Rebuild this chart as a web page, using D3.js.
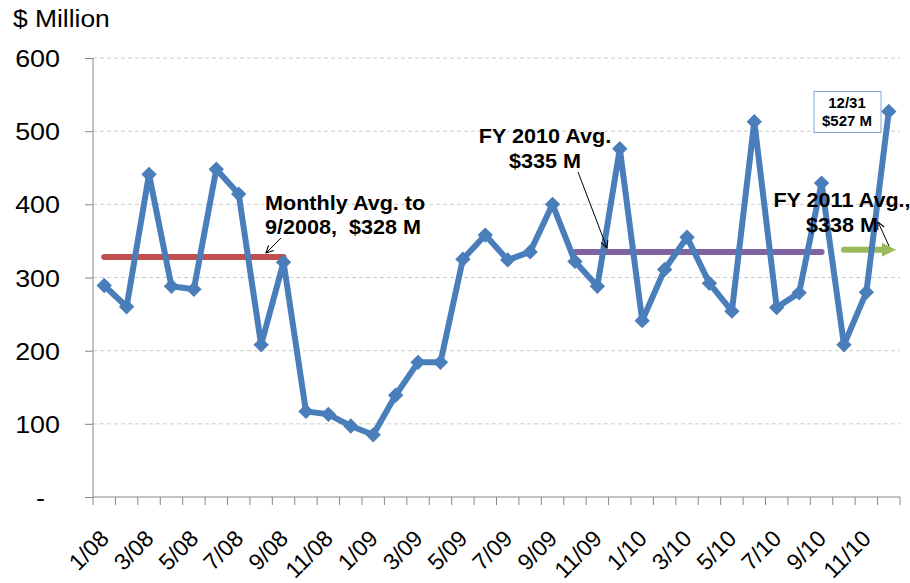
<!DOCTYPE html>
<html>
<head>
<meta charset="utf-8">
<script src="https://cdn.jsdelivr.net/npm/d3@7"></script>
<style>
  body { margin: 0; background: #fff; }
  svg text { font-family: "Liberation Sans", Arial, sans-serif; fill: #000; }
  .grid line { stroke: #cccccc; stroke-dasharray: 4,3; }
  .axis path, .axis line { stroke: #888; }
  .note { font-weight: bold; font-size: 20px; }
</style>
</head>
<body>
<div id="chart"></div>
<script>
'use strict';

// monthly values, $ million, 1/08 .. 12/10
var months = [
  '1/08', '2/08', '3/08', '4/08', '5/08', '6/08', '7/08', '8/08', '9/08', '10/08', '11/08', '12/08',
  '1/09', '2/09', '3/09', '4/09', '5/09', '6/09', '7/09', '8/09', '9/09', '10/09', '11/09', '12/09',
  '1/10', '2/10', '3/10', '4/10', '5/10', '6/10', '7/10', '8/10', '9/10', '10/10', '11/10', '12/10'
];
var values = [
  289, 260, 441, 288, 284, 448, 414, 208, 321, 117, 113, 97,
  85, 139, 184, 184, 325, 358, 324, 335, 400, 322, 288, 476,
  241, 311, 355, 292, 254, 513, 259, 279, 429, 208, 280, 527
];
var tickLabels = [ '1/08', '3/08', '5/08', '7/08', '9/08', '11/08', '1/09', '3/09', '5/09',
  '7/09', '9/09', '11/09', '1/10', '3/10', '5/10', '7/10', '9/10', '11/10' ];
var yTicks = [ 0, 100, 200, 300, 400, 500, 600 ];

// average lines: from month, to month, value
var avgFrom = [ '1/08', '10/09', '10/10' ];
var avgTo = [ '9/08', '9/10', '12/10' ];
var avgValue = [ 328, 335, 338 ];
var avgColor = [ '#c0504d', '#8064a2', '#9bbb59' ];

var margin = { top: 58, right: 10, bottom: 86, left: 93 };
var baseWidth = 910, baseHeight = 583;
var width = baseWidth - margin.left - margin.right,
    height = baseHeight - margin.top - margin.bottom;

// the original text is a bit wider than Liberation Sans
var stretch = 1.08;

var svg = d3.select( '#chart' )
  .append( 'svg' )
    .attr( 'width', baseWidth )
    .attr( 'height', baseHeight );

var defs = svg.append( 'defs' );
defs.append( 'marker' )
    .attr( 'id', 'arr' )
    .attr( 'viewBox', '0 0 10 10' )
    .attr( 'refX', 9 ).attr( 'refY', 5 )
    .attr( 'markerWidth', 9 ).attr( 'markerHeight', 9 )
    .attr( 'orient', 'auto' )
  .append( 'path' )
    .attr( 'd', 'M1,1 L9,5 L1,9' )
    .attr( 'fill', 'none' )
    .attr( 'stroke', '#000' )
    .attr( 'stroke-width', 1.2 );
defs.append( 'marker' )
    .attr( 'id', 'tri' )
    .attr( 'viewBox', '0 0 10 10' )
    .attr( 'refX', 5 ).attr( 'refY', 5 )
    .attr( 'markerWidth', 2.4 ).attr( 'markerHeight', 2.4 )
    .attr( 'orient', 'auto' )
  .append( 'path' )
    .attr( 'd', 'M0,0 L10,5 L0,10 Z' )
    .attr( 'fill', '#9bbb59' );

var g = svg.append( 'g' )
  .attr( 'transform', 'translate(' + margin.left + ',' + margin.top + ')' );

var x = d3.scaleBand()
  .domain( months )
  .range( [ 0, width ] );

var y = d3.scaleLinear()
  .domain( [ 0, 600 ] )
  .range( [ height, 0 ] );

function cx( m ) { return x( m ) + x.bandwidth() / 2; }

// gridlines
g.append( 'g' )
  .classed( 'grid', true )
  .selectAll( 'line' )
  .data( yTicks.slice( 1 ) )
  .enter().append( 'line' )
    .attr( 'x1', 0 ).attr( 'x2', width )
    .attr( 'y1', function( d ) { return y( d ); } )
    .attr( 'y2', function( d ) { return y( d ); } );

// y axis
var yAxis = g.append( 'g' )
  .classed( 'axis', true )
  .call( d3.axisLeft( y )
    .tickValues( yTicks )
    .tickSize( 8 )
    .tickFormat( function( d ) { return d === 0 ? '-' : d; } ) );
yAxis.select( '.domain' ).attr( 'd', 'M0,' + height + 'V0' );
yAxis.selectAll( 'text' )
  .style( 'font-size', '24px' )
  .attr( 'x', 0 )
  .attr( 'dy', '0.36em' )
  .attr( 'transform', function( d ) {
    return 'translate(' + ( d === 0 ? -48 : -33 ) + ',0) scale(' + 1.12 + ',1)';
  } );

// x axis, ticks at the category boundaries
var xAxis = g.append( 'g' )
  .classed( 'axis', true )
  .attr( 'transform', 'translate(0,' + height + ')' );
xAxis.append( 'line' )
  .attr( 'x1', 0 ).attr( 'x2', width );
xAxis.selectAll( 'line.tk' )
  .data( months.concat( [ null ] ) )
  .enter().append( 'line' )
    .attr( 'class', 'tk' )
    .attr( 'x1', function( d, i ) { return i * x.step(); } )
    .attr( 'x2', function( d, i ) { return i * x.step(); } )
    .attr( 'y1', 0 ).attr( 'y2', 8 );
xAxis.selectAll( 'text' )
  .data( tickLabels )
  .enter().append( 'text' )
    .attr( 'text-anchor', 'end' )
    .style( 'font-size', '23px' )
    .attr( 'transform', function( d ) {
      return 'translate(' + ( cx( d ) + 6 ) + ',' + 43 + ') rotate(-45)';
    } )
    .text( function( d ) { return d; } );

// average lines
avgValue.forEach( function( v, i ) {
  g.append( 'line' )
    .attr( 'x1', cx( avgFrom[i] ) )
    .attr( 'x2', cx( avgTo[i] ) )
    .attr( 'y1', y( v ) )
    .attr( 'y2', y( v ) )
    .attr( 'stroke', avgColor[i] )
    .attr( 'stroke-width', 6 )
    .attr( 'stroke-linecap', 'round' )
    .attr( 'marker-end', i === 2 ? 'url(#tri)' : null );
} );

// the series
var line = d3.line()
  .x( function( d, i ) { return cx( months[i] ); } )
  .y( function( d ) { return y( d ); } );

g.append( 'path' )
  .attr( 'd', line( values ) )
  .attr( 'fill', 'none' )
  .attr( 'stroke', '#4a7ebb' )
  .attr( 'stroke-width', 6 )
  .attr( 'stroke-linejoin', 'round' );

var diamond = d3.symbol().type( d3.symbolSquare ).size( 118 );
g.selectAll( '.pt' )
  .data( values )
  .enter().append( 'path' )
    .attr( 'class', 'pt' )
    .attr( 'd', diamond )
    .attr( 'fill', '#4a7ebb' )
    .attr( 'transform', function( d, i ) {
      return 'translate(' + cx( months[i] ) + ',' + y( d ) + ') rotate(45)';
    } );

// $ Million label
svg.append( 'text' )
  .attr( 'transform', 'translate(13,27) scale(1.1,1)' )
  .style( 'font-size', '24px' )
  .text( '$ Million' );

// annotations
function note( lines, px, py, anchor, gap ) {
  var t = svg.append( 'text' )
    .classed( 'note', true )
    .attr( 'text-anchor', anchor )
    .attr( 'transform', 'translate(' + px + ',' + py + ') scale(' + stretch + ',1)' );
  lines.forEach( function( s, i ) {
    t.append( 'tspan' )
      .attr( 'x', 0 )
      .attr( 'y', i * gap )
      .text( s );
  } );
}
function arrow( x1, y1, x2, y2 ) {
  svg.append( 'line' )
    .attr( 'x1', x1 ).attr( 'y1', y1 )
    .attr( 'x2', x2 ).attr( 'y2', y2 )
    .attr( 'stroke', '#000' )
    .attr( 'stroke-width', 1 )
    .attr( 'marker-end', 'url(#arr)' );
}

note( [ 'Monthly Avg. to', '9/2008,\u00a0 $328 M' ], 265, 210, 'start', 24 );
arrow( 281, 238, 266, 253 );

note( [ 'FY 2010 Avg.', '$335 M' ], 545, 143, 'middle', 25 );
arrow( 578, 172, 607, 248 );

note( [ 'FY 2011 Avg.,', '$338 M' ], 842, 207, 'middle', 25 );
arrow( 889, 246, 878, 222 );

// 12/31 callout
svg.append( 'rect' )
  .attr( 'x', 814 ).attr( 'y', 91.5 )
  .attr( 'width', 67 ).attr( 'height', 41 )
  .attr( 'fill', '#fff' )
  .attr( 'stroke', '#7ea6d8' )
  .attr( 'stroke-width', 1 );
var box = svg.append( 'text' )
  .attr( 'text-anchor', 'middle' )
  .style( 'font-weight', 'bold' )
  .style( 'font-size', '15px' );
box.append( 'tspan' ).attr( 'x', 847 ).attr( 'y', 108 ).text( '12/31' );
box.append( 'tspan' ).attr( 'x', 847 ).attr( 'y', 126 ).text( '$527 M' );
</script>
</body>
</html>
